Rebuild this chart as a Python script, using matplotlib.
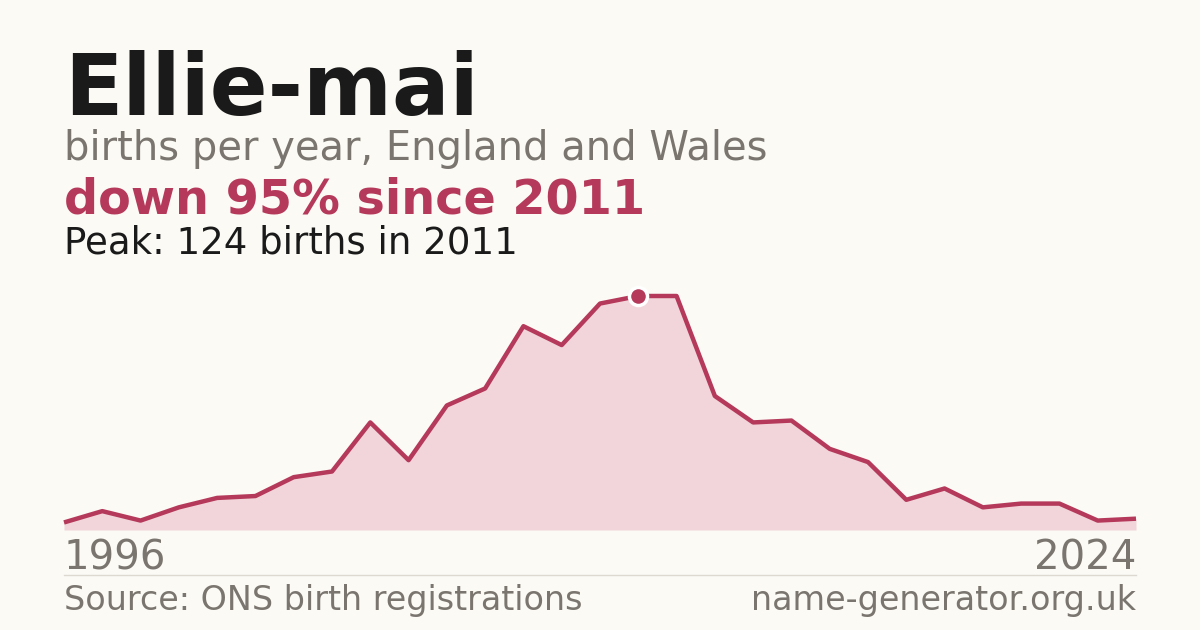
import matplotlib.pyplot as plt

years = list(range(1996, 2025))
births = [4, 10, 5, 12, 17, 18, 28, 31, 57, 37, 66, 75, 108, 98, 120, 124, 124,
          71, 57, 58, 43, 36, 16, 22, 12, 14, 14, 5, 6]

name = "Ellie-mai"
subtitle = "births per year, England and Wales"
change_text = "down 95% since 2011"
peak_text = "Peak: 124 births in 2011"
source_text = "Source: ONS birth registrations"
site_text = "name-generator.org.uk"

bg = "#fbfaf5"
red = "#b5395a"
fill = "#f2d5da"
grey = "#7a756e"

W, H = 1200, 630
fig = plt.figure(figsize=(12, 6.3), dpi=100, facecolor=bg)

# plot area in pixel coords
left, right, top, bottom = 64, 1136, 296, 530
ax = fig.add_axes([left / W, 1 - bottom / H, (right - left) / W, (bottom - top) / H])
ax.set_facecolor("none")
ax.fill_between(years, births, 0, color=fill, lw=0)
ax.plot(years, births, color=red, lw=3.2, solid_joinstyle="round",
        solid_capstyle="butt", clip_on=False)
peak_i = births.index(max(births))
ax.plot(years[peak_i], births[peak_i], "o", ms=13, color=red, mec="white", mew=2.5,
        clip_on=False, zorder=5)
ax.set_xlim(years[0], years[-1])
ax.set_ylim(0, max(births))
ax.axis("off")

def px(x, y):
    return x / W, 1 - y / H

fig.text(*px(64, 115), name, fontsize=61.5, fontweight="bold", color="#1a1a1a", va="baseline")
fig.text(*px(64, 160), subtitle, fontsize=28.8, color=grey, va="baseline")
fig.text(*px(64, 214), change_text, fontsize=34.4, fontweight="bold", color=red, va="baseline")
fig.text(*px(64, 254), peak_text, fontsize=26.7, color="#1a1a1a", va="baseline")

fig.text(*px(64, 570), str(years[0]), fontsize=29, color=grey, va="baseline")
fig.text(*px(1136, 570), str(years[-1]), fontsize=29, color=grey, va="baseline", ha="right")

fig.add_artist(plt.Line2D([left / W, right / W], [1 - 575 / H] * 2, color="#ddd8d0", lw=1))

fig.text(*px(64, 610), source_text, fontsize=24, color=grey, va="baseline")
fig.text(*px(1136, 610), site_text, fontsize=24, color=grey, va="baseline", ha="right")

fig.savefig("out.png", dpi=100, facecolor=bg)
